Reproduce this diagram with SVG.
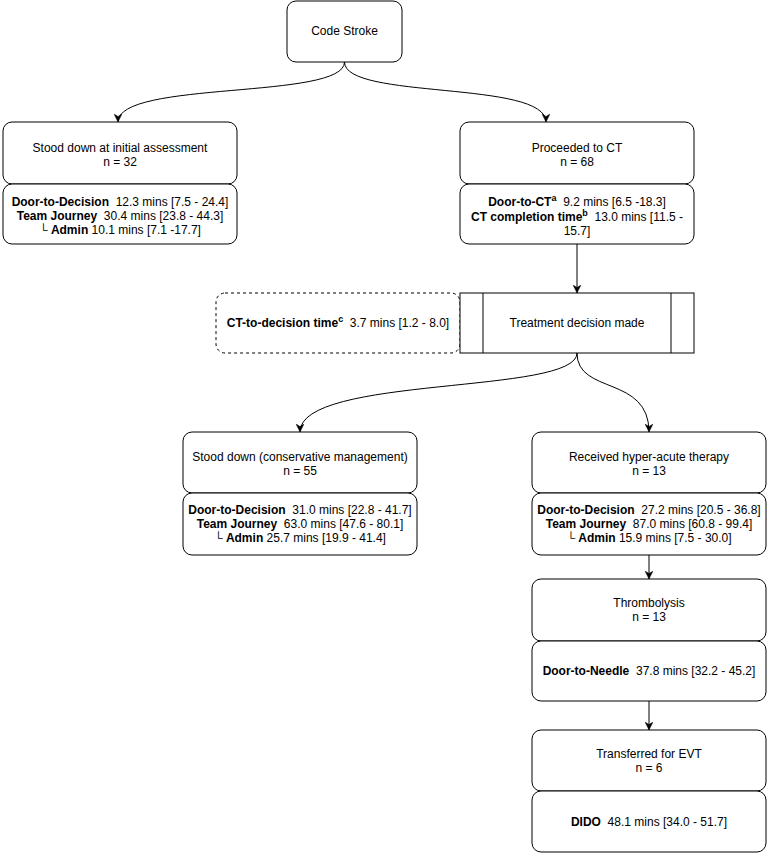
<svg xmlns="http://www.w3.org/2000/svg" width="769" height="853" viewBox="0 0 769 853">
<defs>
<style>
.box{fill:#fff;stroke:#000;stroke-width:1}
.dash{fill:#fff;stroke:#000;stroke-width:1;stroke-dasharray:3 3}
.edge{fill:none;stroke:#000;stroke-width:1}
text{font-family:"Liberation Sans",Arial,Helvetica,sans-serif;font-size:12px;fill:#000;text-anchor:middle}
.b{font-weight:bold}
.sup{font-weight:bold;font-size:9px}
</style>
<marker id="arr" viewBox="0 0 10 10" refX="10" refY="5" markerWidth="8" markerHeight="8" markerUnits="userSpaceOnUse" orient="auto">
<path d="M0,0 L10,5 L0,10 L3,5 z" fill="#000" stroke="#000" stroke-width="0.5"/>
</marker>
</defs>
<rect width="769" height="853" fill="#fff"/>
<g id="connectors">
<path class="edge" d="M344.5,62 C344.5,100 118,80 118,122" marker-end="url(#arr)"/>
<path class="edge" d="M344.5,62 C344.5,100 546,80 546,122" marker-end="url(#arr)"/>
<path class="edge" d="M577,244 L577,293" marker-end="url(#arr)"/>
<path class="edge" d="M577,353 C577,395 300,375 300,432" marker-end="url(#arr)"/>
<path class="edge" d="M577,353 C577,395 649,375 649,432" marker-end="url(#arr)"/>
<path class="edge" d="M649,555 L649,579" marker-end="url(#arr)"/>
<path class="edge" d="M649,701 L649,730" marker-end="url(#arr)"/>
</g>
<g id="code-stroke">
<rect class="box" x="287" y="1" width="115" height="61" rx="9"/>
<text x="344.5" y="35">Code Stroke</text>
</g>
<g id="stood-down-initial">
<rect class="box" x="3" y="122" width="234" height="62" rx="9"/>
<text x="120" y="152">Stood down at initial assessment</text>
<text x="120" y="166">n = 32</text>
</g>
<g id="stood-down-initial-times">
<rect class="box" x="3" y="184" width="234" height="60" rx="9"/>
<text x="120" y="206"><tspan class="b">Door-to-Decision</tspan>&#160; 12.3 mins [7.5 - 24.4]</text>
<text x="120" y="220"><tspan class="b">Team Journey</tspan>&#160; 30.4 mins [23.8 - 44.3]</text>
<text x="120" y="234">└ <tspan class="b">Admin</tspan> 10.1 mins [7.1 -17.7]</text>
</g>
<g id="proceeded-ct">
<rect class="box" x="460" y="122" width="234" height="62" rx="9"/>
<text x="577" y="152">Proceeded to CT</text>
<text x="577" y="166">n = 68</text>
</g>
<g id="proceeded-ct-times">
<rect class="box" x="460" y="184" width="234" height="60" rx="9"/>
<text x="577" y="206"><tspan class="b">Door-to-CT</tspan><tspan class="sup" dy="-5">a</tspan><tspan dy="5">&#160; 9.2 mins [6.5 -18.3]</tspan></text>
<text x="577" y="221"><tspan class="b">CT completion time</tspan><tspan class="sup" dy="-5">b</tspan><tspan dy="5">&#160; 13.0 mins [11.5 -</tspan></text>
<text x="577" y="235">15.7]</text>
</g>
<g id="ct-to-decision">
<rect class="dash" x="216" y="293" width="244" height="60" rx="9"/>
<text x="338" y="327"><tspan class="b">CT-to-decision time</tspan><tspan class="sup" dy="-5">c</tspan><tspan dy="5">&#160; 3.7 mins [1.2 - 8.0]</tspan></text>
</g>
<g id="treatment-decision">
<rect class="box" x="460" y="293" width="234" height="60"/>
<line class="edge" x1="483" y1="293" x2="483" y2="353"/>
<line class="edge" x1="671" y1="293" x2="671" y2="353"/>
<text x="577" y="327">Treatment decision made</text>
</g>
<g id="stood-down-conservative">
<rect class="box" x="183" y="432" width="234" height="61" rx="9"/>
<text x="300" y="461">Stood down (conservative management)</text>
<text x="300" y="475">n = 55</text>
</g>
<g id="stood-down-conservative-times">
<rect class="box" x="183" y="493" width="234" height="62" rx="9"/>
<text x="300" y="514"><tspan class="b">Door-to-Decision</tspan>&#160; 31.0 mins [22.8 - 41.7]</text>
<text x="300" y="528"><tspan class="b">Team Journey</tspan>&#160; 63.0 mins [47.6 - 80.1]</text>
<text x="300" y="542">└ <tspan class="b">Admin</tspan> 25.7 mins [19.9 - 41.4]</text>
</g>
<g id="hyper-acute">
<rect class="box" x="532" y="432" width="234" height="61" rx="9"/>
<text x="649" y="461">Received hyper-acute therapy</text>
<text x="649" y="475">n = 13</text>
</g>
<g id="hyper-acute-times">
<rect class="box" x="532" y="493" width="234" height="62" rx="9"/>
<text x="649" y="514"><tspan class="b">Door-to-Decision</tspan>&#160; 27.2 mins [20.5 - 36.8]</text>
<text x="649" y="528"><tspan class="b">Team Journey</tspan>&#160; 87.0 mins [60.8 - 99.4]</text>
<text x="649" y="542">└ <tspan class="b">Admin</tspan> 15.9 mins [7.5 - 30.0]</text>
</g>
<g id="thrombolysis">
<rect class="box" x="532" y="579" width="234" height="62" rx="9"/>
<text x="649" y="607">Thrombolysis</text>
<text x="649" y="621">n = 13</text>
</g>
<g id="thrombolysis-times">
<rect class="box" x="532" y="641" width="234" height="60" rx="9"/>
<text x="649" y="675"><tspan class="b">Door-to-Needle</tspan>&#160; 37.8 mins [32.2 - 45.2]</text>
</g>
<g id="evt">
<rect class="box" x="532" y="730" width="234" height="61" rx="9"/>
<text x="649" y="758">Transferred for EVT</text>
<text x="649" y="772">n = 6</text>
</g>
<g id="evt-times">
<rect class="box" x="532" y="791" width="234" height="61" rx="9"/>
<text x="649" y="826"><tspan class="b">DIDO</tspan>&#160; 48.1 mins [34.0 - 51.7]</text>
</g>
</svg>
